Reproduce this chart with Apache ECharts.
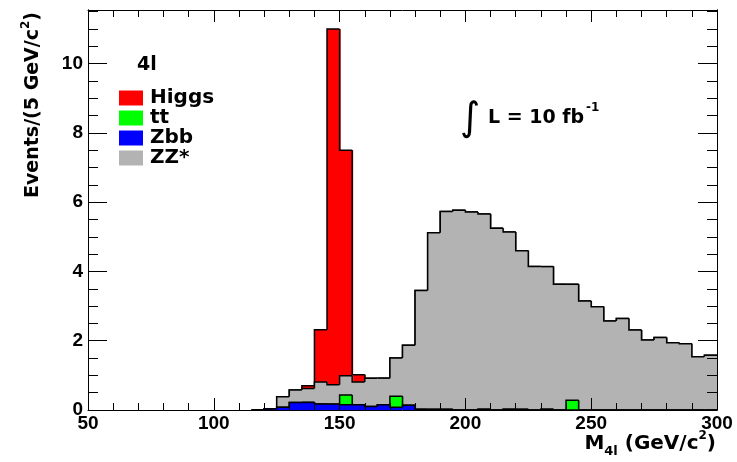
<!DOCTYPE html>
<html>
<head>
<meta charset="utf-8">
<script src="https://cdn.jsdelivr.net/npm/echarts@6/dist/echarts.min.js"></script>
<style>
html, body { margin: 0; padding: 0; background: #fff; }
#main { width: 737px; height: 462px; }
</style>
</head>
<body>
<div id="main"></div>
<script>
// lower edge of each 5 GeV bin (empty below 120)
const binLow = [115, 120, 125, 130, 135, 140, 145, 150, 155, 160, 165, 170, 175,
                180, 185, 190, 195, 200, 205, 210, 215, 220, 225, 230, 235, 240,
                245, 250, 255, 260, 265, 270, 275, 280, 285, 290, 295];
const binWidth = 5;

// per-bin contributions, stacked bottom -> top: Zbb, tt, ZZ*, Higgs
const zbb   = [0, 0.03, 0.08, 0.22, 0.22, 0.17, 0.17, 0.15, 0.15, 0.10, 0.15, 0.08, 0.14,
               0.02, 0.02, 0.02, 0, 0, 0.02, 0, 0.02, 0.02, 0, 0.02, 0, 0,
               0, 0, 0, 0, 0, 0, 0, 0, 0, 0, 0];
const tt    = [0, 0, 0, 0, 0, 0, 0, 0.28, 0, 0, 0, 0.32, 0,
               0, 0, 0, 0, 0, 0, 0, 0, 0, 0, 0, 0, 0.28,
               0, 0, 0, 0, 0, 0, 0, 0, 0, 0, 0];
const zz    = [0, 0, 0.30, 0.36, 0.40, 0.64, 0.56, 0.56, 0.66, 0.82, 0.77, 1.10, 1.73,
               3.43, 5.10, 5.71, 5.77, 5.72, 5.64, 5.25, 5.12, 4.58, 4.14, 4.12, 3.63, 3.35,
               3.15, 2.98, 2.57, 2.64, 2.31, 2.02, 2.09, 1.94, 1.91, 1.54, 1.58];
const higgs = [0, 0, 0, 0, 0.08, 1.51, 10.27, 6.51, 0.21, 0, 0, 0, 0,
               0, 0, 0, 0, 0, 0, 0, 0, 0, 0, 0, 0, 0,
               0, 0, 0, 0, 0, 0, 0, 0, 0, 0, 0];

const xTicks = [50, 100, 150, 200, 250, 300];

const chart = echarts.init(document.getElementById('main'));

const txtFont = '"DejaVu Sans", sans-serif';
const numFont = '"Liberation Sans", Arial, sans-serif';

// stack order bottom -> top
const layers = [
    { name: 'Zbb', vals: zbb, color: '#0000ff', z: 5 },
    { name: 'tt', vals: tt, color: '#00ff00', z: 4 },
    { name: 'ZZ*', vals: zz, color: '#b3b3b3', z: 3 },
    { name: 'Higgs', vals: higgs, color: '#ff0000', z: 2 }
];

// each item: [xlow, xhigh, base, top, top of previous bin]
let base = binLow.map(() => 0);
let seriesList = layers.map(function (layer) {
    let items = [];
    let tops = [];
    for (let i = 0; i < binLow.length; i++) {
        let top = base[i] + layer.vals[i];
        tops.push(top);
        items.push([binLow[i], binLow[i] + binWidth, base[i], top, i > 0 ? tops[i - 1] : 0]);
    }
    base = tops;
    let fill = layer.color;
    return {
        name: layer.name,
        type: 'custom',
        z: layer.z,
        clip: true,
        color: fill,
        itemStyle: { color: fill },
        encode: { x: [0, 1], y: [2, 3] },
        renderItem: function (params, api) {
            let lo = api.coord([api.value(0), api.value(2)]);
            let hi = api.coord([api.value(1), api.value(3)]);
            let prev = api.coord([api.value(0), api.value(4)]);
            let children = [];
            if (api.value(3) > api.value(2)) {
                // +1px so neighbouring bins overlap and no seam shows
                children.push({
                    type: 'rect',
                    shape: { x: lo[0], y: hi[1], width: hi[0] - lo[0] + 1, height: lo[1] - hi[1] },
                    style: { fill: fill, stroke: null }
                });
            }
            children.push({
                type: 'polyline',
                shape: { points: [[prev[0], prev[1]], [lo[0], hi[1]], [hi[0], hi[1]]] },
                style: { stroke: '#000', lineWidth: 1.5, fill: null }
            });
            return { type: 'group', children: children };
        },
        data: items
    };
});

let xAxisBase = function (pos, showLabel) {
    return {
        type: 'value', position: pos, min: xTicks[0], max: xTicks[xTicks.length - 1], interval: 50,
        z: 10,
        axisLine: { show: true, onZero: false, lineStyle: { color: '#000', width: 1 } },
        axisTick: { show: true, inside: true, length: 12, lineStyle: { color: '#000', width: 1 } },
        minorTick: { show: true, splitNumber: 5, length: 7, lineStyle: { color: '#000', width: 1 } },
        splitLine: { show: false },
        minorSplitLine: { show: false },
        axisLabel: {
            show: showLabel, margin: 4, color: '#000',
            fontFamily: numFont, fontWeight: 'bold', fontSize: 19
        }
    };
};

let yAxisBase = function (pos, interval, tickLen, showLabel) {
    return {
        type: 'value', position: pos, min: 0, max: 11.55, interval: interval,
        z: 10,
        axisLine: { show: true, onZero: false, lineStyle: { color: '#000', width: 1 } },
        axisTick: { show: true, inside: true, length: tickLen, lineStyle: { color: '#000', width: 1 } },
        splitLine: { show: false },
        axisLabel: {
            show: showLabel, margin: 5, color: '#000', showMaxLabel: false,
            fontFamily: numFont, fontWeight: 'bold', fontSize: 19
        }
    };
};

chart.setOption({
    animation: false,
    backgroundColor: '#fff',
    grid: { left: 88, right: 20, top: 10, bottom: 52, outerBoundsMode: 'none', containLabel: false },
    xAxis: [xAxisBase('bottom', true), xAxisBase('top', false)],
    yAxis: [
        yAxisBase('left', 2, 19, true),
        yAxisBase('left', 0.5, 10, false),
        yAxisBase('right', 2, 19, false),
        yAxisBase('right', 0.5, 10, false)
    ],
    legend: {
        orient: 'vertical',
        left: 119, top: 88,
        padding: 0,
        itemGap: 0,
        itemWidth: 24, itemHeight: 15,
        icon: 'rect',
        selectedMode: false,
        textStyle: { color: '#000', fontFamily: txtFont, fontWeight: 'bold', fontSize: 20, lineHeight: 19, padding: [0, 0, 0, 2] },
        data: [
            { name: 'Higgs', itemStyle: { color: '#ff0000', borderWidth: 0 } },
            { name: 'tt', itemStyle: { color: '#00ff00', borderWidth: 0 } },
            { name: 'Zbb', itemStyle: { color: '#0000ff', borderWidth: 0 } },
            { name: 'ZZ*', itemStyle: { color: '#b3b3b3', borderWidth: 0 } }
        ]
    },
    graphic: [
        { type: 'text', z: 100, left: 137, top: 56, style: { text: '4l', font: 'bold 19px ' + txtFont, fill: '#000' } },
        { type: 'text', z: 100, x: 470, y: 120, style: { text: '\u222b', font: '39px ' + txtFont, fill: '#000', align: 'center', verticalAlign: 'middle' } },
        { type: 'text', z: 100, x: 488, y: 118, style: { text: 'L = 10 fb', font: 'bold 19px ' + txtFont, fill: '#000', align: 'left', verticalAlign: 'middle' } },
        { type: 'text', z: 100, x: 586, y: 108, style: { text: '-1', font: 'bold 12px ' + txtFont, fill: '#000', align: 'left', verticalAlign: 'middle' } },
        {
            type: 'text', z: 100, x: 716, y: 444,
            style: {
                text: '{m|M}{s|4l}{m| (GeV/c}{p|2}{m|)}',
                align: 'right', verticalAlign: 'middle', fill: '#000',
                rich: {
                    m: { fontFamily: txtFont, fontWeight: 'bold', fontSize: 20, lineHeight: 28 },
                    s: { fontFamily: txtFont, fontWeight: 'bold', fontSize: 13, lineHeight: 20, verticalAlign: 'bottom' },
                    p: { fontFamily: txtFont, fontWeight: 'bold', fontSize: 12, lineHeight: 6, verticalAlign: 'top' }
                }
            }
        },
        {
            type: 'text', z: 100, x: 33, y: 198, rotation: Math.PI / 2,
            style: {
                text: '{m|Events/(5 GeV/c}{p|2}{m|)}',
                align: 'left', verticalAlign: 'middle', fill: '#000',
                rich: {
                    m: { fontFamily: txtFont, fontWeight: 'bold', fontSize: 19, lineHeight: 26 },
                    p: { fontFamily: txtFont, fontWeight: 'bold', fontSize: 12, lineHeight: 6, verticalAlign: 'top' }
                }
            }
        }
    ],
    series: seriesList
});
</script>
</body>
</html>
